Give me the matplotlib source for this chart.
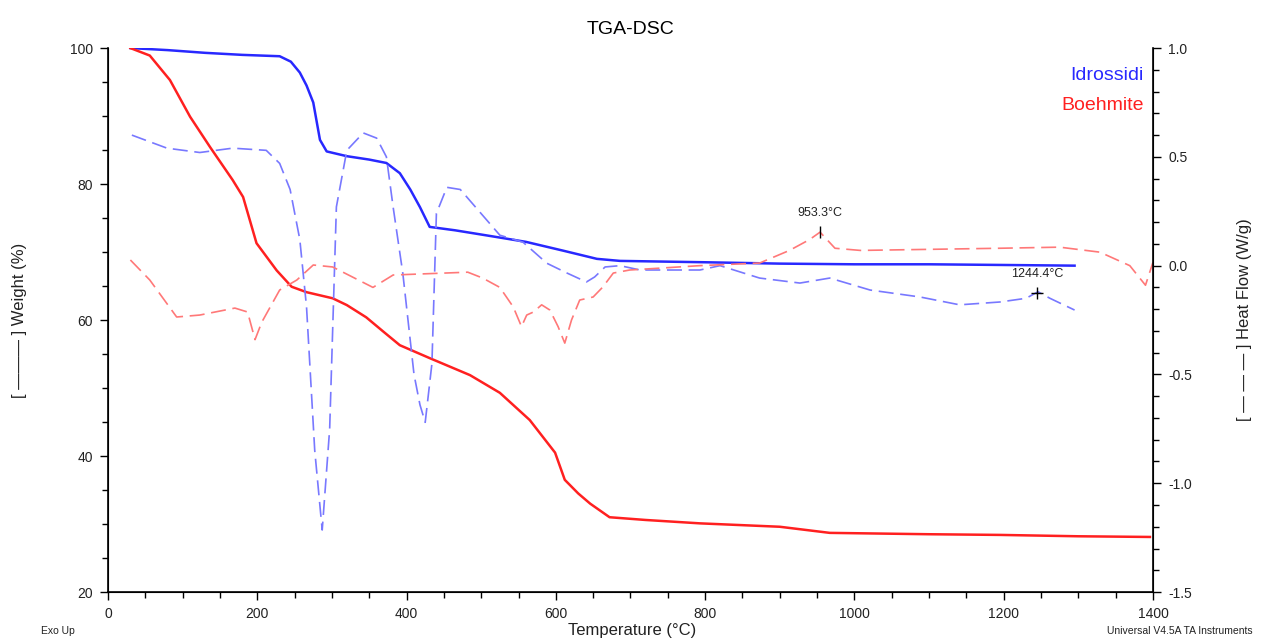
import matplotlib
matplotlib.use("Agg")
import matplotlib.pyplot as plt
from matplotlib.ticker import MultipleLocator

plt.rcParams['font.family'] = ['Liberation Sans', 'DejaVu Sans']

# --- Idrossidi weight (%) ---
t_idr_w = [30, 80, 130, 180, 230, 245, 257, 266, 275, 284, 293, 320, 350, 373, 391, 405,
           418, 431, 465, 510, 560, 610, 655, 686, 800, 900, 1000, 1100, 1200, 1295]
w_idr = [100, 99.7, 99.3, 99.0, 98.8, 98.0, 96.4, 94.5, 92.0, 86.5, 84.8, 84.1, 83.6, 83.1,
         81.6, 79.2, 76.6, 73.7, 73.2, 72.4, 71.5, 70.2, 69.0, 68.7, 68.5, 68.3, 68.2, 68.2,
         68.1, 68.0]

# --- Boehmite weight (%) ---
t_boe_w = [30, 56, 83, 110, 137, 167, 181, 190, 199, 226, 246, 266, 301, 320, 346, 370,
           391, 431, 485, 525, 565, 599, 612, 630, 646, 672, 720, 793, 900, 967, 1100,
           1195, 1300, 1396]
w_boe = [100, 98.9, 95.3, 89.9, 85.4, 80.6, 78.1, 74.7, 71.3, 67.3, 64.9, 64.1, 63.2, 62.2,
         60.4, 58.2, 56.3, 54.4, 51.9, 49.3, 45.3, 40.5, 36.5, 34.5, 33.0, 31.0, 30.6, 30.1,
         29.6, 28.7, 28.5, 28.4, 28.2, 28.1]

# --- Idrossidi heat flow (W/g) ---
t_idr_h = [32, 79, 123, 167, 212, 230, 244, 257, 266, 277, 287, 297, 306, 320, 342, 360,
           373, 382, 395, 410, 418, 425, 434, 440, 454, 472, 525, 556, 588, 615, 641, 652,
           666, 686, 713, 793, 820, 873, 927, 967, 1021, 1088, 1141, 1195, 1230, 1246,
           1262, 1295]
h_idr = [0.60, 0.54, 0.52, 0.54, 0.53, 0.47, 0.35, 0.12, -0.19, -0.85, -1.215, -0.75, 0.27,
         0.53, 0.61, 0.586, 0.50, 0.27, -0.035, -0.50, -0.64, -0.72, -0.45, 0.24, 0.36, 0.35,
         0.14, 0.108, 0.011, -0.034, -0.075, -0.052, -0.006, 0.0, -0.02, -0.02, 0.0, -0.057,
         -0.08, -0.057, -0.112, -0.144, -0.18, -0.167, -0.15, -0.12, -0.15, -0.204]

# --- Boehmite heat flow (W/g) ---
t_boe_h = [30, 56, 92, 123, 170, 187, 197, 206, 230, 253, 275, 301, 355, 382, 482, 502,
           525, 543, 554, 561, 570, 581, 592, 603, 612, 621, 632, 650, 663, 677, 699, 793,
           873, 913, 940, 954, 974, 1008, 1195, 1275, 1329, 1369, 1390, 1400]
h_boe = [0.026, -0.066, -0.236, -0.227, -0.195, -0.213, -0.34, -0.26, -0.112, -0.066, 0.003,
         -0.006, -0.10, -0.043, -0.03, -0.057, -0.10, -0.19, -0.28, -0.227, -0.213, -0.18,
         -0.204, -0.28, -0.356, -0.25, -0.158, -0.144, -0.098, -0.034, -0.02, 0.0, 0.012,
         0.07, 0.12, 0.154, 0.08, 0.07, 0.08, 0.085, 0.062, 0.0, -0.09, 0.015]

peak_t = [953.3, 1244.4]
peak_h = [0.155, -0.125]
peak_lbl = ['953.3°C', '1244.4°C']

blue = '#2828ff'
red = '#ff2020'
txt = '#222222'

fig = plt.figure(figsize=(12.66, 6.41), dpi=100)
ax = fig.add_axes([0.0853, 0.0764, 0.8254, 0.8486])
ax2 = ax.twinx()

ax.plot(t_idr_w, w_idr, color=blue, linewidth=1.8)
ax.plot(t_boe_w, w_boe, color=red, linewidth=1.8)
ax2.plot(t_idr_h, h_idr, color='#7878ff', linewidth=1.2, dashes=(9, 4))
ax2.plot(t_boe_h, h_boe, color='#ff7878', linewidth=1.2, dashes=(9, 4))

ax2.plot(peak_t[:1], peak_h[:1], marker='|', color='black', markersize=9, mew=1)
ax2.plot(peak_t[1:], peak_h[1:], marker='+', color='black', markersize=9, mew=1)
ax2.text(peak_t[0], peak_h[0] + 0.06, peak_lbl[0], ha='center', va='bottom', fontsize=9,
         color=txt)
ax2.text(peak_t[1], peak_h[1] + 0.06, peak_lbl[1], ha='center', va='bottom', fontsize=9,
         color=txt)

ax.set_xlim(0, 1400)
ax.set_ylim(20, 100)
ax2.set_ylim(-1.5, 1.0)

ax.xaxis.set_major_locator(MultipleLocator(200))
ax.xaxis.set_minor_locator(MultipleLocator(50))
ax.yaxis.set_major_locator(MultipleLocator(20))
ax.yaxis.set_minor_locator(MultipleLocator(5))
ax2.set_yticks([-1.5, -1.0, -0.5, 0.0, 0.5, 1.0])
ax2.set_yticklabels(['-1.5', '-1.0', '-0.5', '0.0', '0.5', '1.0'])
ax2.yaxis.set_minor_locator(MultipleLocator(0.1))

for a in (ax, ax2):
    a.spines['top'].set_visible(False)
    a.tick_params(which='major', length=6, width=1, labelsize=10, pad=5, labelcolor=txt)
    a.tick_params(which='minor', length=4, width=1)
ax.spines['left'].set_linewidth(1.2)
ax.spines['bottom'].set_linewidth(1.2)
ax2.spines['right'].set_linewidth(1.2)

ax.set_title('TGA-DSC', fontsize=14, pad=10)

fig.text(20 / 1266, 1 - 320 / 641, '[ ——— ] Weight (%)', rotation=90, ha='center',
         va='center', fontsize=12, color=txt)
fig.text(1245 / 1266, 1 - 320 / 641, '[ — — — ] Heat Flow (W/g)', rotation=90, ha='center',
         va='center', fontsize=12, color=txt)
fig.text(632 / 1266, 1 - 631 / 641, 'Temperature (°C)', ha='center', va='center',
         fontsize=12, color=txt)

ax.text(0.991, 0.95, 'Idrossidi', transform=ax.transAxes, ha='right', va='center',
        color=blue, fontsize=14)
ax.text(0.991, 0.895, 'Boehmite', transform=ax.transAxes, ha='right', va='center',
        color=red, fontsize=14)

fig.text(58 / 1266, 1 - 631 / 641, 'Exo Up', ha='center', va='center', fontsize=7.5,
         color=txt)
fig.text(1180 / 1266, 1 - 631 / 641, 'Universal V4.5A TA Instruments', ha='center',
         va='center', fontsize=7.5, color=txt)

fig.savefig('out.png', dpi=100)
